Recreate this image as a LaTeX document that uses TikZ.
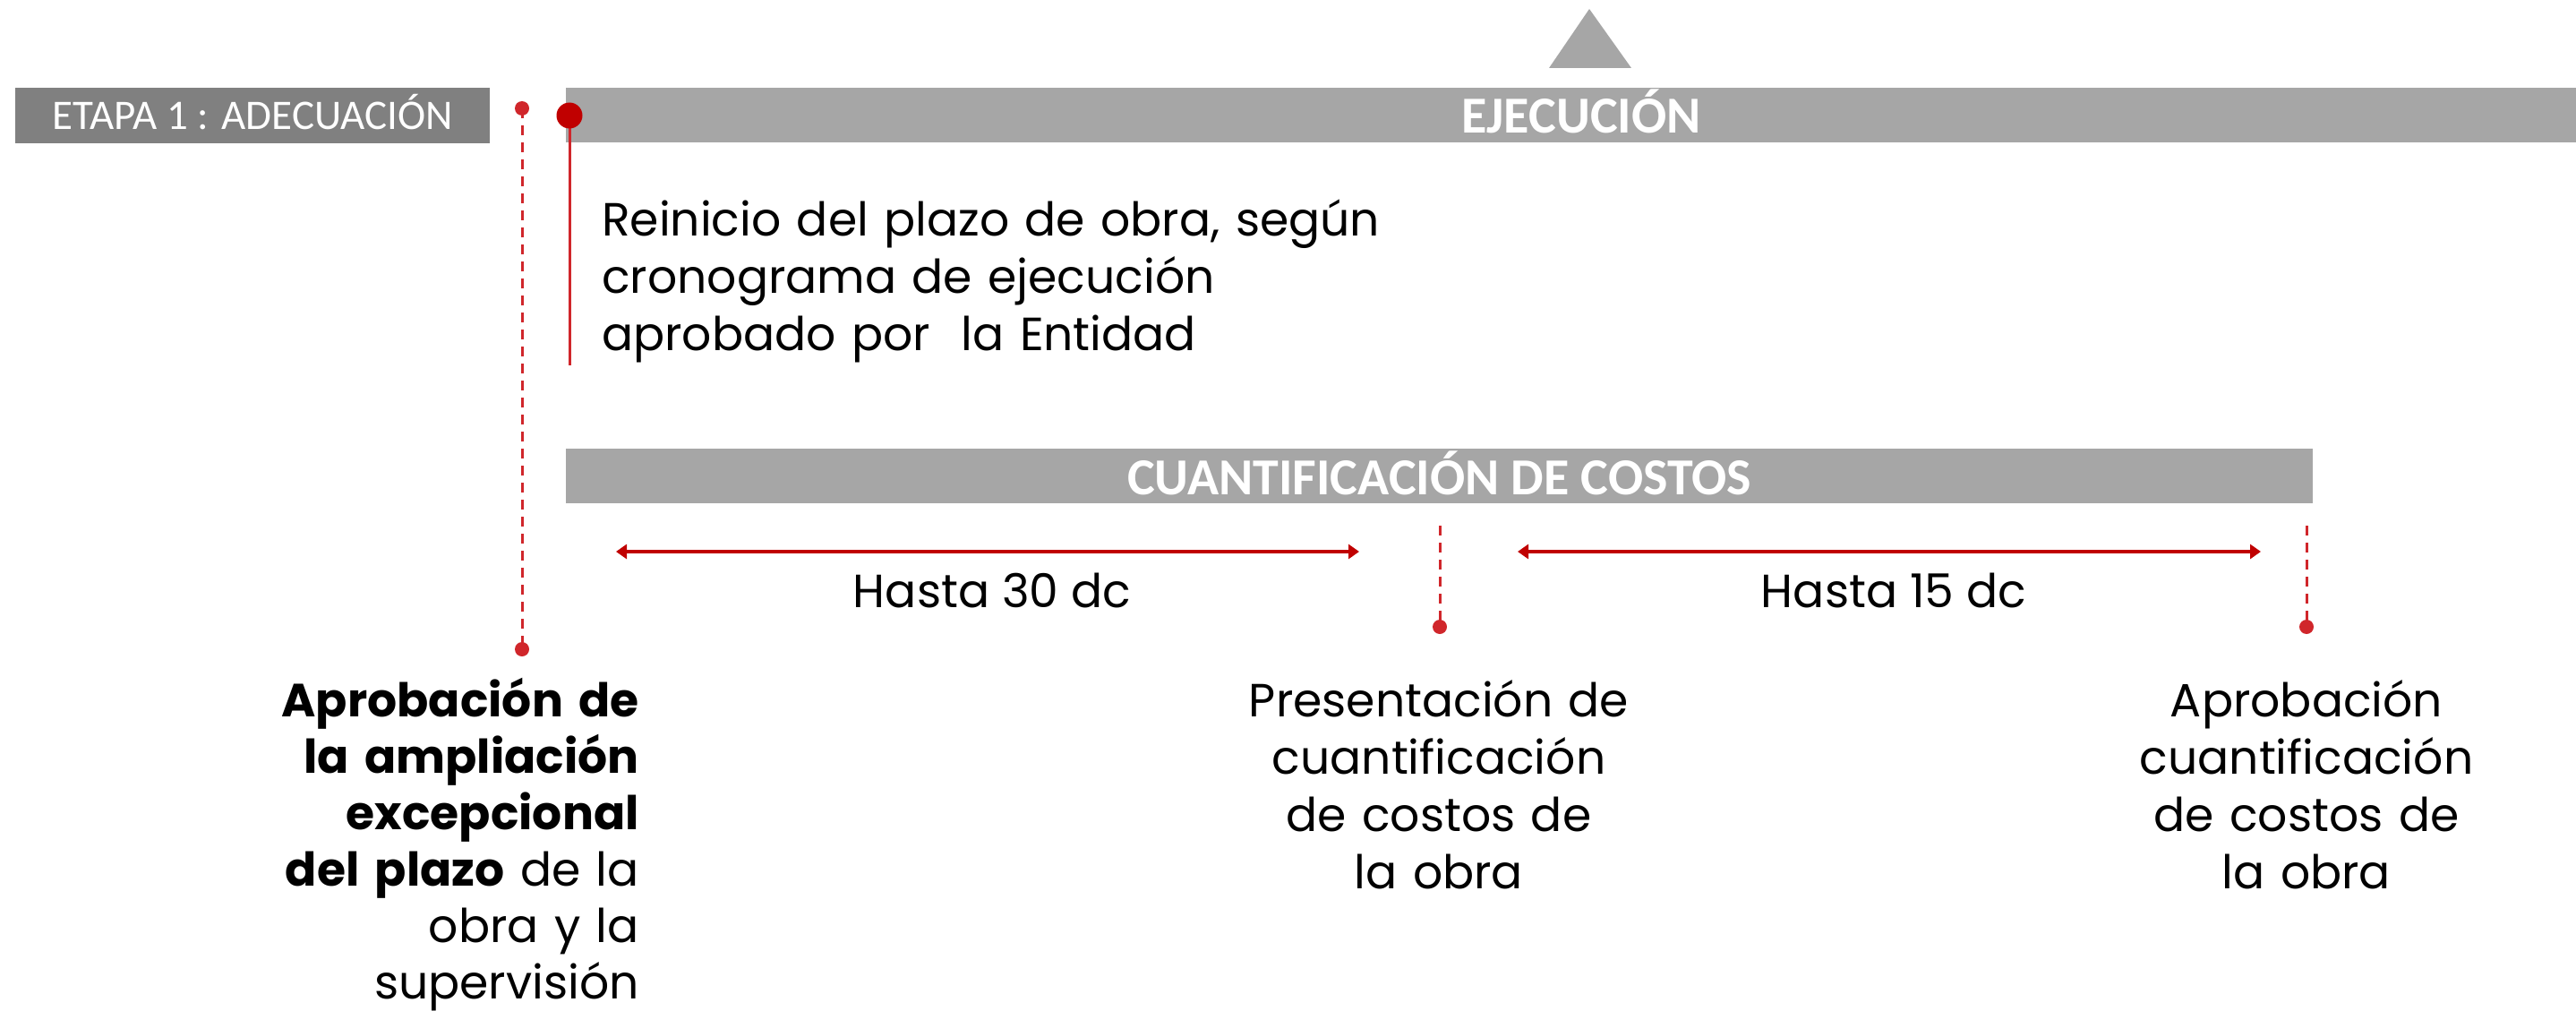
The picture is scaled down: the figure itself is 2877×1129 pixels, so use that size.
\documentclass[tikz,border=0pt]{standalone}
\usepackage{fontspec}
\setmainfont{Poppins}
\newfontfamily\barfont{Carlito}
\usetikzlibrary{arrows.meta}
\definecolor{darkred}{HTML}{C00000}
\definecolor{dotred}{HTML}{D0262B}
\definecolor{bargray}{HTML}{A6A6A6}
\definecolor{etapagray}{HTML}{808080}
\tikzset{
  barbox/.style={fill=#1, draw=none, inner sep=0, anchor=north west},
  bartext/.style={text=white, inner sep=0, anchor=base, font=\barfont\bfseries\fontsize{58}{60}\selectfont},
  etapatext/.style={text=white, inner sep=0, anchor=base, font=\barfont\fontsize{47}{50}\selectfont},
  bodytext/.style={inner sep=0, text=black, font=\fontsize{52}{64}\selectfont},
  smalldot/.style={circle, fill=dotred, inner sep=0, minimum size=16pt},
  bigdot/.style={circle, fill=darkred, inner sep=0, minimum size=29pt},
  dashline/.style={draw=dotred, line width=3pt, dash pattern=on 11pt off 8pt},
  spanarrow/.style={draw=darkred, line width=4pt, {Triangle[width=16pt,length=12pt]}-{Triangle[width=16pt,length=12pt]}},
}
\begin{document}
\begin{tikzpicture}[x=1pt,y=-1pt]
\useasboundingbox (0,0) rectangle (2877,1129);
% triangle
\fill[bargray] (1775,10) -- (1822,76) -- (1730,76) -- cycle;
% bars
\node[barbox=etapagray, minimum width=530pt, minimum height=62pt] (etapa) at (17,98) {};
\node[etapatext] (etapalbl) at (282,145) {ETAPA 1 : ADECUACIÓN};
\node[barbox=bargray, minimum width=2245pt, minimum height=61pt] (ejec) at (632,98) {};
\node[bartext] (ejeclbl) at (1766,148) {EJECUCIÓN};
\node[barbox=bargray, minimum width=1951pt, minimum height=61pt] (cuant) at (632,501) {};
\node[bartext] (cuantlbl) at (1607.5,552) {CUANTIFICACIÓN DE COSTOS};
% left dashed marker
\node[smalldot] (d1) at (583,121) {};
\node[smalldot] (d1b) at (583,725) {};
\draw[dashline] (d1.center) -- (d1b.center);
% reinicio marker
\coordinate (r1b) at (636,408);
\draw[draw=dotred, line width=3pt] (636,129) -- (r1b);
\node[bigdot] (r1) at (636,129) {};
\node[bodytext, anchor=base west, text width=1000pt, align=left] (reinicio) at (672,263)
  {Reinicio del plazo de obra, según\\cronograma de ejecución\\aprobado por\ \ la Entidad};
% middle marker
\coordinate (m1t) at (1608,587);
\node[smalldot] (m1) at (1608,700) {};
\draw[dashline] (m1t) -- (m1.center);
% right marker
\coordinate (m2t) at (2576,587);
\node[smalldot] (m2) at (2576,700) {};
\draw[dashline] (m2t) -- (m2.center);
% arrows
\coordinate (a1l) at (688,616);
\coordinate (a1r) at (1518,616);
\coordinate (a2l) at (1695,616);
\coordinate (a2r) at (2525,616);
\draw[spanarrow] (a1l) -- (a1r);
\draw[spanarrow] (a2l) -- (a2r);
\node[bodytext, anchor=base] (h30) at (1108,678) {Hasta 30 dc};
\node[bodytext, anchor=base] (h15) at (2115,678) {Hasta 15 dc};
% bottom texts
\node[bodytext, font=\fontsize{52}{63}\selectfont, anchor=base east, text width=600pt, align=right] (aprob) at (714,800)
  {\textbf{Aprobación de}\\\textbf{la ampliación}\\\textbf{excepcional}\\\textbf{del plazo} de la\\obra y la\\supervisión};
\node[bodytext, anchor=base, text width=600pt, align=center] (pres) at (1607,800)
  {Presentación de\\cuantificación\\de costos de\\la obra};
\node[bodytext, anchor=base, text width=600pt, align=center] (aprc) at (2576,800)
  {Aprobación\\cuantificación\\de costos de\\la obra};
\end{tikzpicture}
\end{document}
